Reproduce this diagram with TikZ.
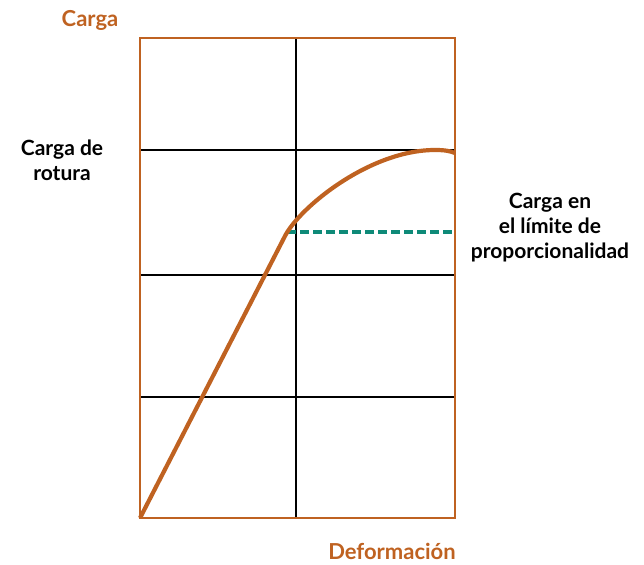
\documentclass[tikz,border=0pt]{standalone}
\usepackage{fontspec}
\setmainfont{Lato}
\definecolor{ocre}{HTML}{BF6221}
\definecolor{teal2}{HTML}{0E8A78}
\begin{document}
\begin{tikzpicture}[x=1pt,y=-1pt,
  frame/.style={draw=ocre,line width=2pt},
  grid/.style={draw=black,line width=1.4pt},
  curve/.style={draw=ocre,line width=4.2pt,line join=round},
  dashline/.style={draw=teal2,line width=3.6pt,dash pattern=on 9pt off 4pt},
  axislabel/.style={text=ocre,font=\bfseries\fontsize{22}{26}\selectfont,inner sep=1pt},
  lbl/.style={align=center,font=\fontsize{21}{25}\selectfont\bfseries}]
\useasboundingbox (0,0) rectangle (644,564);
\coordinate (bl) at (140,518);
\coordinate (tr) at (455,38);
\coordinate (vt) at (296,38);
\coordinate (vb) at (296,518);
\coordinate (h1l) at (140,150); \coordinate (h1r) at (455,150);
\coordinate (h2l) at (140,275); \coordinate (h2r) at (455,275);
\coordinate (h3l) at (140,397); \coordinate (h3r) at (455,397);
\draw[grid] (vt) -- (vb);
\draw[grid] (h1l) -- (h1r);
\draw[grid] (h2l) -- (h2r);
\draw[grid] (h3l) -- (h3r);
\coordinate (d1) at (287,232);
\coordinate (d2) at (455,232);
\draw[dashline] (d1) -- (d2);
\coordinate (k) at (285,236);
\coordinate (pk) at (435,150);
\coordinate (e) at (455,153);
\draw[curve] (bl) -- (k) .. controls (300,207) and (370,150) .. (pk) .. controls (445,150) and (450,151) .. (e);
\draw[frame] (bl) rectangle (tr);
\node[axislabel] (carga) at (90,20) {Carga};
\node[axislabel] (def) at (392,551) {Deformación};
\node[lbl] (rot) at (62,160) {Carga de\\rotura};
\node[lbl] (lim) at (550,228) {Carga en\\el límite de\\proporcionalidad};
\end{tikzpicture}
\end{document}
